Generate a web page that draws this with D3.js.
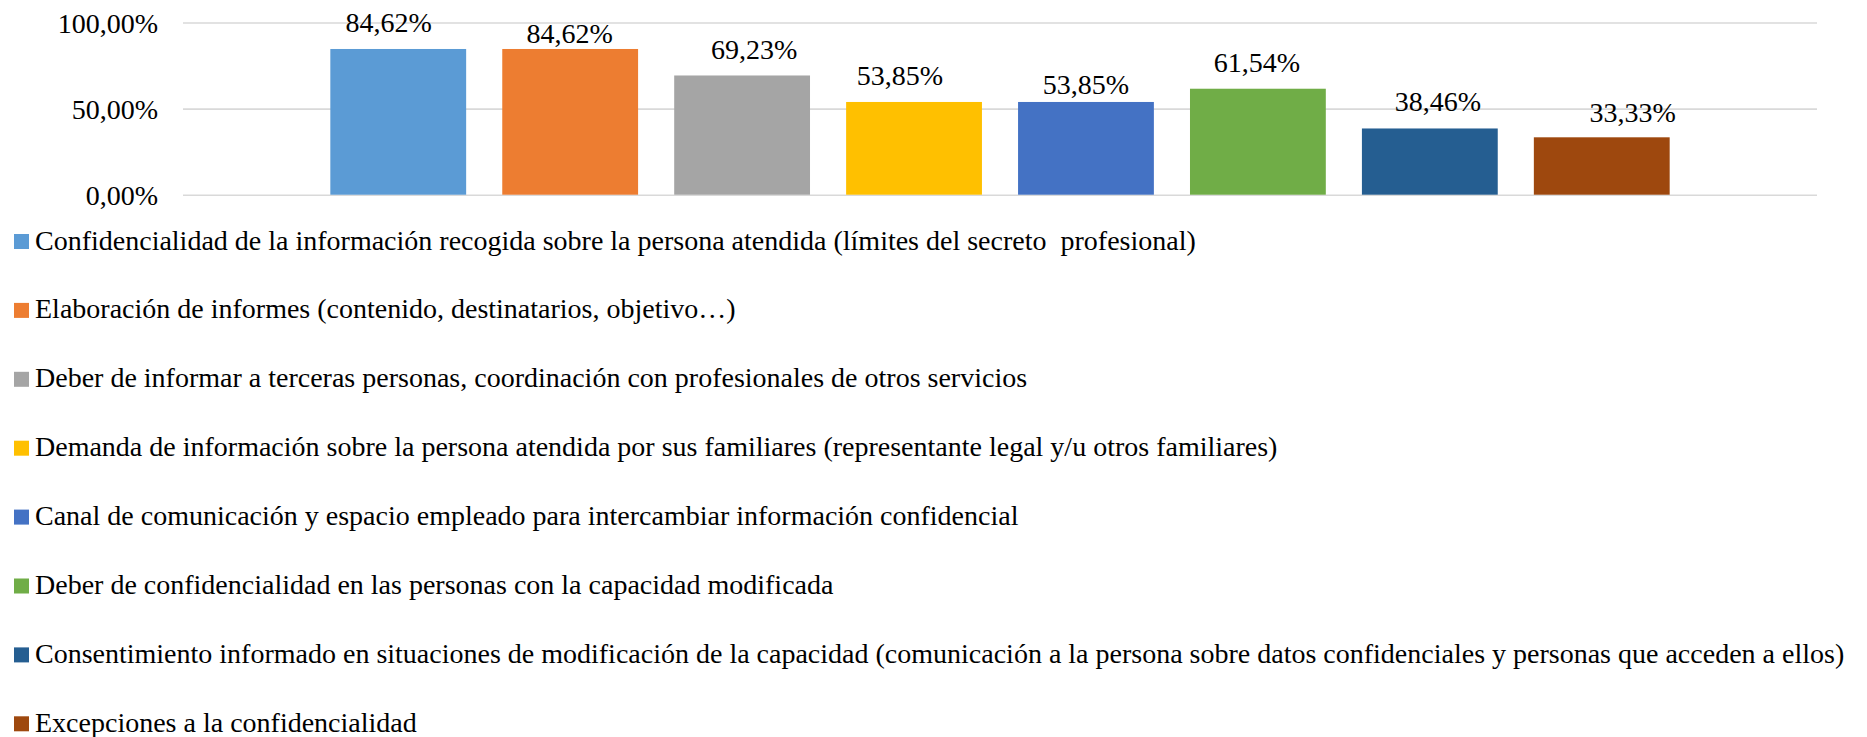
<!DOCTYPE html>
<html>
<head>
<meta charset="utf-8">
<script src="https://cdn.jsdelivr.net/npm/d3@7/dist/d3.min.js"></script>
<style>
  html, body { margin: 0; padding: 0; background: #ffffff; }
  svg { display: block; }
  text { font-family: "Liberation Serif", "Times New Roman", serif; fill: #000; }
  .legend text { white-space: pre; }
</style>
</head>
<body>
<svg id="chart" width="1867" height="737"></svg>
<script>
// ---------- data ----------
const categories = ["Confidencialidad"];
const seriesNames = [
  "Confidencialidad de la información recogida sobre la persona atendida (límites del secreto  profesional)",
  "Elaboración de informes (contenido, destinatarios, objetivo…)",
  "Deber de informar a terceras personas, coordinación con profesionales de otros servicios",
  "Demanda de información sobre la persona atendida por sus familiares (representante legal y/u otros familiares)",
  "Canal de comunicación y espacio empleado para intercambiar información confidencial",
  "Deber de confidencialidad en las personas con la capacidad modificada",
  "Consentimiento informado en situaciones de modificación de la capacidad (comunicación a la persona sobre datos confidenciales y personas que acceden a ellos)",
  "Excepciones a la confidencialidad"
];
const seriesValues = [0.8462, 0.8462, 0.6923, 0.5385, 0.5385, 0.6154, 0.3846, 0.3333];
const valueLabels = ["84,62%", "84,62%", "69,23%", "53,85%", "53,85%", "61,54%", "38,46%", "33,33%"];
const tickValues = [0, 0.5, 1];
const tickLabels = ["0,00%", "50,00%", "100,00%"];

// ---------- style / layout ----------
const colors = ["#5B9BD5", "#ED7D31", "#A5A5A5", "#FFC000", "#4472C4", "#70AD47", "#255E91", "#9E480E"];
const labelNudgeX = [-9.5, -0.5, 12, -14, 0, -1, 8, 31];
const labelGapY = [17, 6, 16, 17, 8, 17, 17, 15];
const plot = { left: 183, right: 1817, top: 22.5, bottom: 194.7 };
const legend = { x: 14, top: 234, step: 68.9, sw: 15, textX: 35, fontSize: 28 };
const labelFont = 28;

const svg = d3.select("#chart");

const y = d3.scaleLinear().domain([0, 1]).range([plot.bottom, plot.top]);
const x0 = d3.scaleBand().domain(categories).range([plot.left, plot.right]).paddingOuter(0.110);
const x1 = d3.scaleBand().domain(d3.range(seriesNames.length)).range([0, x0.bandwidth()]).paddingInner(0.21);

// gridlines
const grid = svg.append("g")
  .attr("transform", `translate(${plot.left},0)`)
  .call(d3.axisLeft(y).tickValues(tickValues).tickSize(-(plot.right - plot.left)).tickFormat(""));
grid.select(".domain").remove();
grid.selectAll(".tick line").attr("stroke", "#D9D9D9").attr("stroke-width", 1.6);

// y-axis labels
const yAxis = svg.append("g")
  .attr("transform", `translate(158,0)`)
  .call(d3.axisLeft(y).tickValues(tickValues).tickSize(0).tickPadding(0)
    .tickFormat(d => tickLabels[tickValues.indexOf(d)]));
yAxis.select(".domain").remove();
yAxis.selectAll("text")
  .style("font-family", '"Liberation Serif", "Times New Roman", serif')
  .style("font-size", labelFont + "px")
  .attr("fill", "#000")
  .attr("dy", "0.34em");

// bars
const g = svg.append("g").attr("transform", `translate(${x0(categories[0])},0)`);
g.selectAll("rect")
  .data(seriesValues)
  .join("rect")
  .attr("x", (d, i) => x1(i))
  .attr("y", d => y(d))
  .attr("width", x1.bandwidth())
  .attr("height", d => y(0) - y(d))
  .attr("fill", (d, i) => colors[i]);

// data labels
g.selectAll("text.lbl")
  .data(seriesValues)
  .join("text")
  .attr("class", "lbl")
  .attr("x", (d, i) => x1(i) + x1.bandwidth() / 2 + labelNudgeX[i])
  .attr("y", (d, i) => y(d) - labelGapY[i])
  .attr("text-anchor", "middle")
  .style("font-size", labelFont + "px")
  .text((d, i) => valueLabels[i]);

// legend
const lg = svg.append("g").attr("class", "legend");
const items = lg.selectAll("g").data(seriesNames).join("g")
  .attr("transform", (d, i) => `translate(0,${legend.top + i * legend.step})`);
items.append("rect")
  .attr("x", legend.x).attr("y", 0)
  .attr("width", legend.sw).attr("height", legend.sw)
  .attr("fill", (d, i) => colors[i]);
items.append("text")
  .attr("x", legend.textX)
  .attr("y", legend.sw + 0.5)
  .style("font-size", legend.fontSize + "px")
  .text(d => d);
</script>
</body>
</html>
